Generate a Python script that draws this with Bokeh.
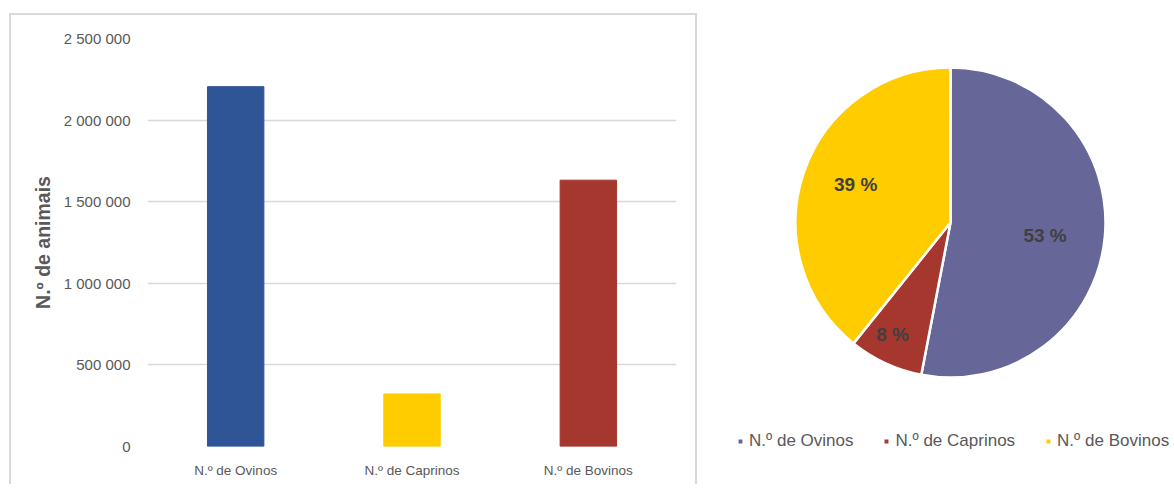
import numpy as np
from bokeh.plotting import figure
from bokeh.layouts import row
from bokeh.models import (ColumnDataSource, FactorRange, Range1d, FixedTicker,
                          Legend, LegendItem)
from bokeh.core.properties import value
from bokeh.embed import file_html
from bokeh.resources import INLINE

# ---- data ----
categories = ["N.º de Ovinos", "N.º de Caprinos", "N.º de Bovinos"]
animals = [2205000, 322000, 1632000]
bar_colors = ["#2F5597", "#FFCC00", "#A5372F"]
pie_colors = ["#666699", "#A5372F", "#FFCC00"]
tick_values = [0, 500000, 1000000, 1500000, 2000000, 2500000]
tick_labels = ["0", "500 000", "1 000 000", "1 500 000", "2 000 000", "2 500 000"]
y_title = "N.º de animais"

GREY = "#595959"
BORDER = "2px solid #d9d9d9"
MB_TOP, MB_BOTTOM = 23, 40

# ---- bar chart ----
W1, H1 = 684, 469
p1 = figure(width=W1, height=H1, x_range=FactorRange(*categories),
            y_range=Range1d(0, 2500000), output_backend="svg",
            toolbar_location=None, min_border_left=136, min_border_right=23,
            min_border_top=MB_TOP, min_border_bottom=MB_BOTTOM)
p1.styles = {"box-sizing": "content-box", "border-top": BORDER,
             "border-left": BORDER, "border-right": BORDER}
p1.margin = (13, 0, 0, 9)
src = ColumnDataSource(dict(cat=categories, val=animals, col=bar_colors))
p1.vbar(x="cat", top="val", width=0.32, color="col", source=src)
p1.outline_line_color = None
p1.xgrid.grid_line_color = None
p1.ygrid.grid_line_color = "#d9d9d9"
p1.ygrid.grid_line_width = 1.5
p1.yaxis.ticker = FixedTicker(ticks=tick_values)
p1.yaxis.major_label_overrides = {v: l for v, l in zip(tick_values, tick_labels)}
for ax in (p1.xaxis, p1.yaxis):
    ax.axis_line_color = None
    ax.major_tick_line_color = None
    ax.minor_tick_line_color = None
    ax.major_tick_out = 0
    ax.major_tick_in = 0
    ax.minor_tick_out = 0
    ax.minor_tick_in = 0
    ax.major_label_text_color = GREY
    ax.major_label_text_font = "Liberation Sans"
p1.yaxis.major_label_text_font_size = "15px"
p1.yaxis.major_label_standoff = 17
p1.xaxis.major_label_text_font_size = "13.5px"
p1.xaxis.major_label_standoff = 16
p1.yaxis.axis_label = y_title
p1.yaxis.axis_label_text_font = "Liberation Sans"
p1.yaxis.axis_label_text_font_style = "bold"
p1.yaxis.axis_label_text_font_size = "19.5px"
p1.yaxis.axis_label_text_color = GREY
p1.yaxis.axis_label_standoff = 7

# ---- pie chart ----
W2, H2 = 475, 489
cx, cy = 253, 222   # pie centre in canvas px
frame_top, frame_bottom = MB_TOP, H2 - MB_BOTTOM
p2 = figure(width=W2, height=H2, x_range=Range1d(-cx, W2 - cx),
            y_range=Range1d(-(frame_bottom - cy), cy - frame_top),
            output_backend="svg", toolbar_location=None,
            min_border_left=0, min_border_right=0,
            min_border_top=MB_TOP, min_border_bottom=MB_BOTTOM,
            x_axis_location=None, y_axis_location=None, title=None)
p2.grid.visible = False
p2.outline_line_color = None

vals = np.array(animals, dtype=float)
frac = vals / vals.sum()
ends_cum = np.cumsum(frac)
starts_cum = ends_cum - frac
start_angle = np.pi / 2 - 2 * np.pi * starts_cum
end_angle = np.pi / 2 - 2 * np.pi * ends_cum
R = 155
pie_src = ColumnDataSource(dict(start=start_angle, end=end_angle, col=pie_colors,
                                name=categories))
w = p2.wedge(x=0, y=0, radius=R, start_angle="start", end_angle="end",
             direction="clock", fill_color="col", line_color="white",
             line_width=2.5, source=pie_src)

mid = (start_angle + end_angle) / 2 - np.deg2rad(2.6)
label_r = np.array([0.616, 0.813, 0.66]) * R
pct = [f"{int(round(f * 100))} %" for f in frac]
p2.text(x=label_r * np.cos(mid), y=label_r * np.sin(mid), text=pct,
        text_align="center", text_baseline="middle",
        text_font=value("Liberation Sans"), text_font_style="bold",
        text_font_size="19px", text_color="#404040")

legend = Legend(items=[LegendItem(label=categories[i], renderers=[w], index=i)
                       for i in range(3)],
                orientation="horizontal", location=(39, -2),
                glyph_width=8, glyph_height=8, label_standoff=5, spacing=29,
                padding=0, margin=0, border_line_color=None,
                background_fill_alpha=0, label_text_font="Liberation Sans",
                label_text_font_size="17px", label_text_color=GREY,
                label_height=20)
p2.add_layout(legend, "center")

layout = row(p1, p2)
open("out.html", "w").write(file_html(layout, INLINE))
